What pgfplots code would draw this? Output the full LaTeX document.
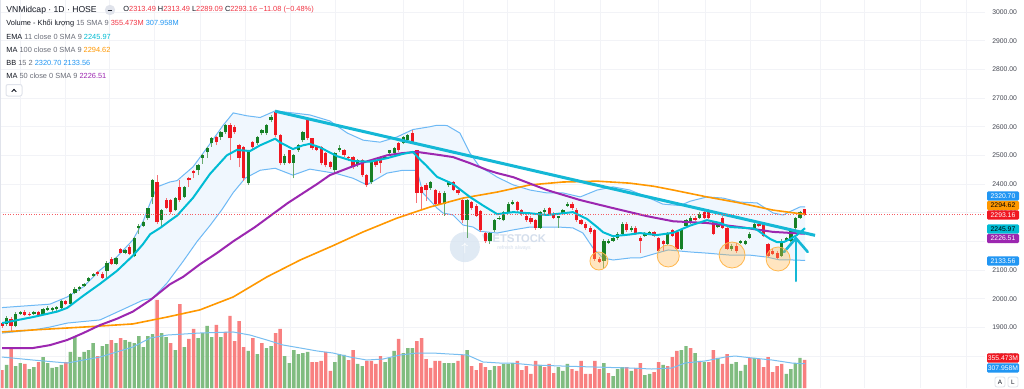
\documentclass[border=0pt]{standalone}
\usepackage{fontspec}
\setmainfont{Liberation Sans}
\usepackage{pgfplots}
\pgfplotsset{compat=1.18}
\usepackage{pgfplotstable}

\definecolor{cgreen}{RGB}{22,128,38}
\definecolor{cred}{RGB}{240,24,34}
\definecolor{wgreen}{RGB}{105,170,110}
\definecolor{wred}{RGB}{245,115,120}
\definecolor{vgreen}{RGB}{128,188,128}
\definecolor{vred}{RGB}{248,128,128}
\definecolor{emac}{RGB}{0,188,212}
\definecolor{ma50c}{RGB}{156,39,176}
\definecolor{ma100c}{RGB}{255,152,0}
\definecolor{bbc}{RGB}{110,185,245}
\definecolor{bbfill}{RGB}{240,247,254}
\definecolor{trendc}{RGB}{20,184,214}
\definecolor{volma}{RGB}{120,190,240}
\definecolor{tvblue}{RGB}{33,150,243}
\definecolor{tvred}{RGB}{242,54,69}
\definecolor{txtdark}{RGB}{19,23,34}
\definecolor{txtgray}{RGB}{106,109,120}
\definecolor{ticktxt}{RGB}{67,70,81}
\definecolor{gridc}{RGB}{242,243,247}
\definecolor{framec}{RGB}{224,227,235}
\definecolor{wmc}{RGB}{212,222,236}
\definecolor{wmcirc}{RGB}{214,227,241}
\definecolor{circc}{RGB}{255,183,77}

% green candles: index open high low close
\pgfplotstableread{
i o h l c
1 1912 1940 1905 1933
3 1906 1952 1900 1948
4 1948 1958 1944 1955
7 1946 1958 1942 1955
9 1946 1968 1942 1965
10 1962 1975 1958 1968
11 1960 1970 1955 1966
12 1963 1976 1958 1972
13 1969 1996 1965 1993
15 1983 2020 1980 2017
16 2021 2040 2015 2035
17 2033 2045 2028 2040
18 2045 2056 2040 2052
19 2063 2076 2058 2073
20 2080 2090 2075 2087
23 2098 2130 2070 2126
25 2122 2147 2118 2143
27 2161 2175 2155 2170
29 2150 2214 2145 2210
30 2245 2262 2225 2255
31 2255 2270 2250 2266
32 2280 2318 2275 2315
33 2353 2418 2330 2413
35 2273 2312 2255 2308
38 2308 2355 2305 2350
40 2353 2392 2350 2388
43 2448 2470 2430 2465
44 2490 2505 2470 2500
45 2510 2530 2490 2524
46 2542 2563 2530 2559
48 2563 2585 2555 2580
49 2580 2610 2575 2605
54 2402 2520 2398 2517
56 2542 2566 2535 2563
57 2577 2592 2570 2587
58 2577 2608 2572 2605
59 2622 2640 2615 2633
62 2472 2503 2468 2497
64 2475 2505 2420 2500
65 2517 2540 2512 2535
66 2552 2585 2545 2580
73 2448 2512 2440 2507
74 2517 2535 2512 2524
78 2465 2488 2460 2483
81 2406 2487 2400 2483
84 2490 2500 2486 2496
85 2507 2520 2503 2517
86 2507 2528 2503 2524
88 2542 2567 2538 2563
89 2552 2575 2548 2570
94 2385 2410 2380 2406
97 2332 2374 2290 2370
98 2395 2410 2390 2406
102 2273 2347 2213 2343
107 2200 2232 2192 2228
108 2238 2278 2234 2273
109 2279 2290 2276 2283
110 2273 2305 2270 2301
111 2301 2336 2298 2332
112 2332 2345 2328 2339
118 2248 2305 2244 2301
119 2301 2315 2297 2311
122 2283 2290 2248 2287
123 2297 2312 2293 2308
124 2325 2336 2321 2332
132 2133 2207 2105 2203
133 2196 2207 2192 2203
134 2203 2217 2199 2213
135 2210 2231 2206 2227
136 2227 2266 2223 2262
138 2238 2252 2234 2248
141 2220 2231 2216 2227
142 2227 2235 2223 2231
146 2192 2231 2188 2227
149 2175 2242 2171 2238
150 2255 2277 2251 2273
151 2266 2287 2262 2283
153 2283 2301 2279 2297
157 2250 2266 2246 2262
160 2175 2190 2168 2185
162 2195 2205 2190 2200
163 2190 2204 2186 2200
164 2213 2231 2209 2227
165 2245 2266 2241 2262
171 2150 2207 2146 2203
172 2203 2214 2199 2210
173 2203 2242 2199 2238
174 2245 2284 2241 2280
175 2283 2305 2279 2301
}\greenc

% red candles: index open high low close
\pgfplotstableread{
i o h l c
0 1915 1920 1898 1905
2 1930 1935 1888 1906
5 1955 1960 1940 1944
6 1948 1952 1938 1944
8 1953 1956 1938 1942
14 1993 1997 1978 1983
21 2092 2096 2080 2085
22 2087 2092 2068 2073
24 2140 2145 2118 2122
26 2175 2178 2158 2161
28 2182 2186 2152 2157
34 2406 2430 2262 2266
36 2343 2350 2312 2318
37 2343 2348 2295 2301
39 2388 2413 2338 2343
41 2420 2425 2390 2413
42 2444 2448 2420 2437
47 2563 2567 2535 2545
50 2605 2612 2483 2559
51 2600 2605 2575 2580
52 2535 2540 2458 2490
53 2528 2532 2412 2420
55 2545 2550 2520 2528
60 2650 2658 2565 2570
61 2570 2575 2465 2472
63 2517 2520 2470 2475
67 2622 2630 2555 2559
68 2559 2562 2520 2524
69 2528 2532 2515 2520
70 2528 2532 2465 2472
71 2507 2512 2458 2465
72 2476 2480 2452 2458
75 2517 2522 2496 2500
76 2495 2497 2480 2490
77 2493 2497 2454 2458
79 2483 2488 2426 2430
80 2430 2435 2390 2395
82 2483 2488 2460 2465
83 2493 2497 2438 2472
87 2542 2546 2512 2517
90 2577 2587 2540 2545
91 2517 2520 2335 2370
92 2388 2392 2310 2370
93 2395 2405 2340 2378
95 2378 2382 2328 2332
96 2370 2375 2328 2332
99 2406 2410 2374 2378
100 2378 2382 2362 2367
101 2343 2347 2265 2273
103 2336 2340 2310 2315
104 2325 2330 2285 2290
105 2305 2310 2232 2238
106 2228 2232 2196 2203
113 2336 2340 2304 2308
114 2308 2312 2290 2297
115 2290 2294 2268 2273
116 2283 2287 2262 2266
117 2273 2277 2240 2245
120 2315 2319 2293 2297
121 2297 2301 2278 2283
125 2332 2336 2311 2315
126 2311 2315 2269 2273
127 2273 2277 2258 2262
128 2262 2266 2241 2245
129 2248 2252 2227 2231
130 2238 2242 2133 2140
131 2140 2145 2124 2129
137 2262 2266 2234 2238
139 2248 2252 2223 2227
140 2213 2217 2160 2200
143 2231 2235 2216 2220
144 2210 2214 2164 2168
145 2200 2204 2165 2190
147 2238 2242 2216 2220
148 2231 2235 2171 2175
152 2283 2290 2271 2275
154 2301 2310 2279 2283
155 2308 2312 2279 2283
156 2266 2270 2223 2227
158 2283 2287 2244 2248
159 2248 2252 2171 2175
161 2185 2195 2160 2165
166 2262 2266 2251 2255
167 2262 2266 2216 2220
168 2192 2196 2146 2150
169 2168 2172 2153 2157
170 2161 2165 2139 2143
176 2313.49 2313.49 2289.09 2293.16
}\redc

% volume (millions)
\pgfplotstableread{
i v
1 292
3 279
4 317
6 241
7 266
9 393
10 317
11 254
12 266
13 292
15 457
16 647
17 393
18 457
19 482
20 571
22 533
23 558
25 571
27 609
28 584
29 571
30 660
31 520
32 660
33 685
35 698
36 647
38 482
40 520
43 634
44 698
45 787
46 647
48 647
54 470
56 431
58 507
59 533
62 406
63 317
64 482
65 431
66 444
67 457
73 330
74 431
75 419
78 305
79 279
84 330
85 381
86 470
88 444
89 507
90 507
97 317
98 317
99 317
102 482
107 228
108 279
110 305
111 305
112 317
118 292
122 266
123 216
124 305
132 317
134 152
135 241
136 266
138 216
141 165
142 178
145 292
149 482
150 533
152 444
154 330
157 381
160 305
161 330
162 216
163 292
165 381
172 178
173 241
174 317
175 381
}\volg

\pgfplotstableread{
i v
0 228
2 507
5 305
8 330
14 330
21 406
24 609
26 634
34 1117
37 571
39 1066
41 622
42 749
47 800
49 711
50 914
51 596
52 850
53 520
55 634
57 571
60 698
61 749
68 330
69 330
70 343
71 457
72 216
76 355
77 482
80 343
81 343
82 305
83 406
87 622
91 596
92 634
93 368
94 254
95 343
96 343
100 343
101 419
103 279
104 228
105 317
106 266
109 279
113 343
114 228
115 279
116 178
117 343
119 266
120 305
121 190
125 241
126 216
127 343
128 178
129 178
130 343
131 241
133 190
137 266
139 254
140 317
143 203
144 330
146 279
147 393
148 470
151 507
153 343
155 330
156 482
158 305
159 431
164 381
166 368
167 266
168 393
169 203
170 279
171 305
176 355.473
}\volr

\pgfplotstableread{
i v
0 393
6.8 355
14.3 317
21.5 393
28.7 520
32.5 634
36.2 672
43.4 698
50.7 711
54.4 672
58.1 609
61.6 546
65.4 508
69.1 470
72.6 444
76.3 393
80.0 355
83.6 368
87.3 419
91.0 444
94.5 444
98.2 431
102.0 419
105.5 330
109.2 317
111.8 317
116.2 292
122.8 279
130.0 266
137.5 254
142.5 241
146.9 254
149.8 317
154.2 343
158.6 393
160.8 406
164.5 381
168.9 355
173.2 317
176.1 307.958
}\volmat

% EMA 11
\pgfplotstableread{
i p
0 1915
6.8 1936
12.1 1955
14.3 1968
17.8 2010
21.5 2052
25.2 2097
28.7 2150
30.9 2190
32.5 2225
34.7 2247
36.8 2272
38.4 2290
41.9 2352
45.6 2435
49.3 2500
51.5 2519
54.4 2515
56.6 2535
59.9 2558
61.0 2545
63.8 2522
66.0 2535
67.5 2540
69.7 2528
71.9 2510
73.5 2497
77.0 2480
80.7 2478
84.4 2490
87.9 2505
90.1 2512
91.7 2485
93.0 2465
95.4 2425
98.9 2400
102.6 2355
105.5 2325
108.6 2295
112.1 2302
115.8 2298
119.5 2292
123.0 2298
125.2 2302
128.3 2278
130.5 2250
131.8 2232
134.0 2218
137.7 2224
139.9 2229
143.6 2222
147.2 2230
150.9 2255
154.6 2274
157.5 2264
159.7 2250
161.8 2248
164.7 2245
165.6 2240
166.9 2225
168.5 2208
170.0 2197
171.5 2198
172.8 2208
174.3 2222
175.2 2234
176.1 2245.97
}\emat

% MA 50
\pgfplotstableread{
i p
0 1828
6.8 1828
10.5 1838
14.3 1856
17.8 1880
21.5 1908
25.2 1930
28.7 1955
32.5 1995
36.8 2050
39.7 2076
43.4 2120
47.2 2160
50.7 2200
55.5 2250
62.7 2334
69.1 2400
71.9 2431
76.3 2458
79.2 2475
84.4 2500
87.9 2508
91.0 2512
96.0 2501
98.9 2494
102.6 2473
106.4 2449
108.6 2438
112.1 2424
119.5 2379
126.8 2344
134.0 2316
141.4 2288
147.2 2270
154.6 2264
161.8 2250
169.1 2233
176.1 2226.51
}\mafifty

% MA 100
\pgfplotstableread{
i p
0 1884
6.8 1891
17.8 1901
28.7 1912
36.2 1936
43.4 1961
50.7 2006
58.1 2076
65.4 2135
72.6 2185
79.2 2233
86.6 2281
93.9 2320
101.1 2351
108.6 2372
115.8 2397
123.0 2407
130.5 2410
137.7 2403
143.0 2392
147.2 2379
154.6 2355
161.8 2334
169.1 2309
174.3 2298
176.1 2294.62
}\mahund

% Bollinger upper
\pgfplotstableread{
i p
0 1969
10.5 1981
14.3 2006
17.8 2041
21.5 2100
25.2 2146
28.7 2205
30.9 2268
32.5 2334
34.0 2390
36.8 2407
38.4 2412
41.9 2460
45.6 2540
48.5 2605
50.7 2648
53.7 2638
56.6 2632
59.9 2655
63.8 2648
67.5 2641
71.9 2620
75.7 2578
79.2 2553
82.9 2546
86.6 2564
90.1 2590
93.9 2600
95.4 2605
97.6 2604
100.4 2578
102.6 2508
104.8 2459
107.0 2440
108.6 2424
112.1 2397
115.8 2379
119.5 2369
123.0 2369
126.8 2355
130.5 2379
134.0 2390
137.7 2379
141.4 2355
144.9 2330
148.7 2325
150.9 2340
154.6 2355
158.1 2351
161.8 2337
165.6 2334
169.1 2299
171.3 2292
173.5 2309
175.0 2320
176.1 2320.70
}\bbupper

% Bollinger lower
\pgfplotstableread{
i p
0 1880
6.8 1891
10.5 1901
14.3 1915
21.5 1926
27.4 1969
30.9 1995
33.1 2002
36.2 2055
39.7 2130
42.8 2200
45.6 2255
48.2 2310
50.7 2370
53.3 2420
56.6 2448
59.9 2455
63.8 2431
67.5 2452
71.3 2442
73.5 2436
77.0 2420
80.0 2397
84.4 2438
87.9 2448
91.0 2448
92.3 2369
95.4 2316
96.7 2299
98.9 2292
101.1 2257
103.3 2250
104.8 2235
108.6 2229
112.1 2240
115.8 2250
121.9 2250
125.2 2247
127.4 2229
129.6 2177
131.8 2142
134.0 2135
137.7 2142
139.9 2142
143.6 2159
146.1 2170
150.9 2163
154.6 2159
159.7 2152
164.0 2152
167.8 2145
170.6 2135
173.5 2135
176.1 2133.56
}\bblower

% Bollinger band area: upper band forward, lower band backward
\pgfplotstableread{
i p
0 1969
10.5 1981
14.3 2006
17.8 2041
21.5 2100
25.2 2146
28.7 2205
30.9 2268
32.5 2334
34.0 2390
36.8 2407
38.4 2412
41.9 2460
45.6 2540
48.5 2605
50.7 2648
53.7 2638
56.6 2632
59.9 2655
63.8 2648
67.5 2641
71.9 2620
75.7 2578
79.2 2553
82.9 2546
86.6 2564
90.1 2590
93.9 2600
95.4 2605
97.6 2604
100.4 2578
102.6 2508
104.8 2459
107.0 2440
108.6 2424
112.1 2397
115.8 2379
119.5 2369
123.0 2369
126.8 2355
130.5 2379
134.0 2390
137.7 2379
141.4 2355
144.9 2330
148.7 2325
150.9 2340
154.6 2355
158.1 2351
161.8 2337
165.6 2334
169.1 2299
171.3 2292
173.5 2309
175.0 2320
176.1 2320.70
176.1 2133.56
173.5 2135
170.6 2135
167.8 2145
164.0 2152
159.7 2152
154.6 2159
150.9 2163
146.1 2170
143.6 2159
139.9 2142
137.7 2142
134.0 2135
131.8 2142
129.6 2177
127.4 2229
125.2 2247
121.9 2250
115.8 2250
112.1 2240
108.6 2229
104.8 2235
103.3 2250
101.1 2257
98.9 2292
96.7 2299
95.4 2316
92.3 2369
91.0 2448
87.9 2448
84.4 2438
80.0 2397
77.0 2420
73.5 2436
71.3 2442
67.5 2452
63.8 2431
59.9 2455
56.6 2448
53.3 2420
50.7 2370
48.2 2310
45.6 2255
42.8 2200
39.7 2130
36.2 2055
33.1 2002
30.9 1995
27.4 1969
21.5 1926
14.3 1915
10.5 1901
6.8 1891
0 1880
}\bbpoly

\pgfplotsset{
  chart/.style={at={(0,0)}, anchor=south west, scale only axis,
    width=492.5pt, height=194pt, xmin=-0.44, xmax=215.57,
    axis line style={draw=none}, tick style={draw=none},
    xtick=\empty, ytick=\empty},
  priceax/.style={chart, ymin=1688.5, ymax=3041.86},
}

\begin{document}
\begin{tikzpicture}
\path[use as bounding box] (0,0) rectangle (512pt,194pt);
\fill[white] (0,0) rectangle (512pt,194pt);

% grid and price scale
\begin{axis}[priceax,
  xtick={3.95,13.82,23.68,33.55,43.42,53.29,63.16,73.03,87.94,101.10,110.96,121.27,131.14,143.86,154.17,164.04,179.39,189.25,201.32,211.62},
  xticklabels={},
  ytick={1800,1900,...,3000},
  grid=major, grid style={gridc, line width=0.5pt},
  yticklabel pos=right, scaled y ticks=false,
  yticklabel style={/pgf/number format/fixed, /pgf/number format/fixed zerofill,
    /pgf/number format/precision=2, /pgf/number format/1000 sep={},
    /pgf/number format/assume math mode=true,
    anchor=west, inner sep=0pt, xshift=3.5pt,
    font=\fontsize{3.4}{4}\selectfont, text=ticktxt}]
\addplot[draw=none] coordinates {(0,2000)};
\end{axis}

% volume pane
\begin{axis}[chart, ymin=0, ymax=4924]
\addplot[ybar, bar width=0.76, bar shift=0pt, fill=vred, draw=none] table[x=i,y=v]{\volr};
\addplot[ybar, bar width=0.76, bar shift=0pt, fill=vgreen, draw=none] table[x=i,y=v]{\volg};
\addplot[volma, line width=0.5pt] table[x=i,y=v]{\volmat};
\end{axis}

% price pane
\begin{axis}[priceax]
\addplot[fill=bbfill, draw=none] table[x=i,y=p]{\bbpoly};
\addplot[bbc, line width=0.5pt] table[x=i,y=p]{\bbupper};
\addplot[bbc, line width=0.5pt] table[x=i,y=p]{\bblower};

% watermark
\node[circle, fill=wmcirc, fill opacity=0.75, minimum size=15pt, inner sep=0pt] at (axis cs:101.5,2180) {};
\node[text=white, font=\bfseries\fontsize{6}{6}\selectfont] at (axis cs:101.5,2176) {$\uparrow$};
\node[text=wmc, font=\bfseries\fontsize{5.6}{6}\selectfont] at (axis cs:112.3,2208) {VIETSTOCK};
\node[text=wmc, font=\fontsize{2.6}{3}\selectfont] at (axis cs:112.3,2177) {refresh always};

% wicks (low to high)
\addplot[wgreen, line width=0.5pt, quiver={u=0, v=\thisrow{h}-\thisrow{l}}] table[x=i, y=l]{\greenc};
\addplot[wred, line width=0.5pt, quiver={u=0, v=\thisrow{h}-\thisrow{l}}] table[x=i, y=l]{\redc};
% bodies (open to close)
\addplot[cgreen, line width=1.65pt, quiver={u=0, v=\thisrow{c}-\thisrow{o}}] table[x=i, y=o]{\greenc};
\addplot[cred, line width=1.65pt, quiver={u=0, v=\thisrow{o}-\thisrow{c}}] table[x=i, y=c]{\redc};

% moving averages
\addplot[ma100c, line width=0.8pt] table[x=i,y=p]{\mahund};
\addplot[ma50c, line width=1pt] table[x=i,y=p]{\mafifty};
\addplot[emac, line width=1pt] table[x=i,y=p]{\emat};

% trendline
\addplot[trendc, line width=1.5pt] coordinates {(59.9,2654) (178.3,2221)};

% support circles
\addplot[only marks, mark=*, mark size=4.5pt, mark options={fill=circc, fill opacity=0.35, draw=circc, line width=0.4pt}] coordinates {(130.9,2131.5)};
\addplot[only marks, mark=*, mark size=5.5pt, mark options={fill=circc, fill opacity=0.35, draw=circc, line width=0.4pt}] coordinates {(146.1,2149)};
\addplot[only marks, mark=*, mark size=6.5pt, mark options={fill=circc, fill opacity=0.35, draw=circc, line width=0.4pt}] coordinates {(160.1,2152.4)};
\addplot[only marks, mark=*, mark size=6pt, mark options={fill=circc, fill opacity=0.35, draw=circc, line width=0.4pt}] coordinates {(170.2,2138.5)};

% arrow
\addplot[trendc, line width=1.3pt, line cap=round] coordinates {(174.1,2062) (174.1,2210)};
\addplot[trendc, line width=1.3pt, line cap=round, line join=round] coordinates {(171.5,2163) (174.1,2211) (176.7,2163)};

% last price line
\addplot[cred!70, line width=0.4pt, dash pattern=on 0.5pt off 0.8pt] coordinates {(-0.44,2293.16) (215.57,2293.16)};
\end{axis}

% overlays in pixel coordinates
\begin{scope}[shift={(0,194pt)}, x=0.5pt, y=-0.5pt]
\draw[framec, line width=0.5pt] (0.5,0) -- (0.5,388);
\node[anchor=west, inner sep=0pt, font=\fontsize{4.3}{5}\selectfont, text=txtdark] at (6,10) {VNMidcap · 1D · HOSE};
\fill[framec] (110,10) circle (2.6pt);
\draw[txtdark, line width=0.45pt] (107.6,10) -- (112.4,10);
\node[anchor=west, inner sep=0pt, font=\fontsize{3.7}{4.4}\selectfont] at (123,10)
 {\textcolor{txtdark}{O}\textcolor{tvred}{2313.49} \textcolor{txtdark}{H}\textcolor{tvred}{2313.49} \textcolor{txtdark}{L}\textcolor{tvred}{2289.09} \textcolor{txtdark}{C}\textcolor{tvred}{2293.16} \textcolor{tvred}{−11.08 (−0.48\%)}};
\node[anchor=west, inner sep=0pt, font=\fontsize{3.7}{4.4}\selectfont] at (6,23.5)
 {\textcolor{txtdark}{Volume - Khối lượng} \textcolor{txtgray}{15 SMA 9} \textcolor{tvred}{355.473M} \textcolor{tvblue}{307.958M}};
\node[anchor=west, inner sep=0pt, font=\fontsize{3.7}{4.4}\selectfont] at (6,36.5)
 {\textcolor{txtdark}{EMA} \textcolor{txtgray}{11 close 0 SMA 9} \textcolor{emac}{2245.97}};
\node[anchor=west, inner sep=0pt, font=\fontsize{3.7}{4.4}\selectfont] at (6,49.5)
 {\textcolor{txtdark}{MA} \textcolor{txtgray}{100 close 0 SMA 9} \textcolor{ma100c}{2294.62}};
\node[anchor=west, inner sep=0pt, font=\fontsize{3.7}{4.4}\selectfont] at (6,62.5)
 {\textcolor{txtdark}{BB} \textcolor{txtgray}{15 2} \textcolor{tvblue}{2320.70} \textcolor{tvblue}{2133.56}};
\node[anchor=west, inner sep=0pt, font=\fontsize{3.7}{4.4}\selectfont] at (6,76)
 {\textcolor{txtdark}{MA} \textcolor{txtgray}{50 close 0 SMA 9} \textcolor{ma50c}{2226.51}};
\draw[framec, line width=0.5pt, rounded corners=1pt, fill=white] (6,84.5) rectangle (22,96);
\draw[txtdark, line width=0.45pt, line join=round] (11.8,91.8) -- (14,89.3) -- (16.2,91.8);

% price scale labels
\foreach \yc/\txt/\bg/\fg in {196/2320.70/tvblue/white, 205.5/2294.62/ma100c/black, 215/2293.16/cred/white, 229/2245.97/emac/black, 238.5/2226.51/ma50c/white, 261/2133.56/tvblue/white, 358/355.473M/cred/white, 368/307.958M/tvblue/white}
  {\node[fill=\bg, text=\fg, rounded corners=0.6pt, minimum width=16pt, minimum height=4.6pt, inner sep=0pt, font=\fontsize{3.4}{4}\selectfont] at (1003,\yc) {\txt};}
\fill[white] (985,374) rectangle (1024,388);
\node[draw=framec, rounded corners=1pt, minimum size=5pt, inner sep=0pt, font=\fontsize{3.2}{4}\selectfont, text=txtdark] at (1000,382) {A};
\node[draw=framec, rounded corners=1pt, minimum size=5pt, inner sep=0pt, font=\fontsize{3.2}{4}\selectfont, text=txtdark] at (1013,382) {L};
\end{scope}
\end{tikzpicture}
\end{document}
